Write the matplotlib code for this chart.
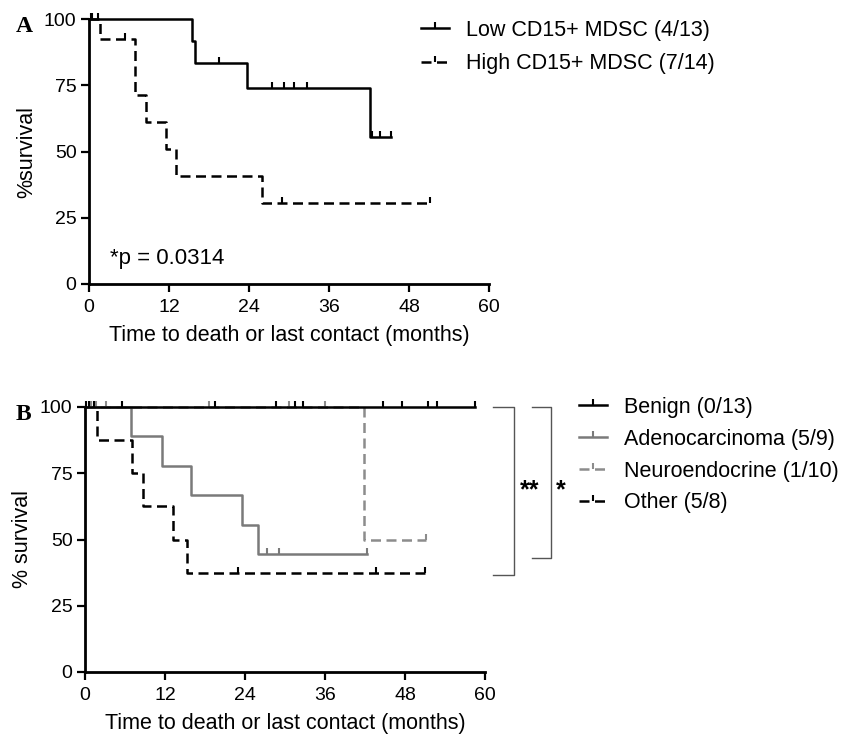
import numpy as np
import matplotlib.pyplot as plt
from matplotlib.path import Path
from matplotlib.lines import Line2D

plt.rcParams['font.family'] = ['Liberation Sans', 'DejaVu Sans']

# ---- panel A: CD15+ MDSC ----
low_t = [0, 15.4, 15.9, 23.7, 42.1, 45.3]
low_s = [100, 91.7, 83.3, 74.1, 55.6, 55.6]
low_cens = [0.25, 0.5, 19.5, 27.5, 29.3, 30.7, 32.7, 42.5, 43.7, 45.3]

high_t = [0, 1.6, 6.9, 8.6, 11.6, 13.1, 26.0, 51.1]
high_s = [100, 92.3, 71.4, 61.2, 51.0, 40.8, 30.6, 30.6]
high_cens = [1.3, 5.4, 28.9, 51.1]

labels_a = ['Low CD15+ MDSC (4/13)', 'High CD15+ MDSC (7/14)']

# ---- panel B: histology ----
benign_t = [0, 58.5]
benign_s = [100, 100]
benign_cens = [0.2, 0.6, 1.3, 5.5, 19.5, 28.6, 31.5, 32.7, 44.7, 47.6, 51.5, 52.8, 58.5]

adeno_t = [0, 6.85, 11.5, 15.9, 23.6, 26.0, 42.25]
adeno_s = [100, 88.9, 77.8, 66.7, 55.6, 44.4, 44.4]
adeno_cens = [27.35, 29.15, 42.25]

neuro_t = [0, 41.85, 51.15]
neuro_s = [100, 50, 50]
neuro_cens = [0.9, 1.7, 3.2, 18.6, 30.6, 36.0, 51.15]

other_t = [0, 1.75, 7.0, 8.65, 13.15, 15.25, 51.0]
other_s = [100, 87.5, 75, 62.5, 50, 37.5, 37.5]
other_cens = [23.0, 43.65, 51.0]

labels_b = ['Benign (0/13)', 'Adenocarcinoma (5/9)', 'Neuroendocrine (1/10)', 'Other (5/8)']

xticks = [0, 12, 24, 36, 48, 60]
yticks = [0, 25, 50, 75, 100]

# upward censor tick
cens_marker = Path([(0, 0), (0, 1)])
DASH = (4, 2.2)
LW = 1.8
FS = 15.5


def level_at(times, surv, t):
    i = np.searchsorted(times, t, side='right') - 1
    return surv[i]


def km(ax, times, surv, cens, color, dashed=False):
    ls = (0, DASH) if dashed else '-'
    ax.step(times, surv, where='post', color=color, lw=LW, linestyle=ls, clip_on=False)
    cy = [level_at(times, surv, t) for t in cens]
    ax.plot(cens, cy, linestyle='none', marker=cens_marker, markersize=8,
            markeredgewidth=1.5, color=color, clip_on=False)


def style_axes(ax, ylabel):
    for s in ['top', 'right']:
        ax.spines[s].set_visible(False)
    for s in ['left', 'bottom']:
        ax.spines[s].set_linewidth(2.0)
    ax.set_xlim(0, 60)
    ax.set_ylim(0, 100)
    ax.set_xticks(xticks)
    ax.set_yticks(yticks)
    ax.tick_params(direction='out', length=6, width=1.6, labelsize=14)
    ax.tick_params(axis='x', pad=5)
    ax.tick_params(axis='y', pad=3)
    ax.set_xlabel('Time to death or last contact (months)', fontsize=FS, labelpad=6)
    ax.set_ylabel(ylabel, fontsize=FS, labelpad=5)


def leg_handle(color, dashed):
    ls = (0, DASH) if dashed else '-'
    return Line2D([0], [0], color=color, lw=LW, linestyle=ls, marker=cens_marker,
                  markersize=8, markeredgewidth=1.5)


fig = plt.figure(figsize=(8.56, 7.35), dpi=100)
W, H = 856, 735

axA = fig.add_axes([89 / W, 1 - 284 / H, 400 / W, 265 / H])
km(axA, high_t, high_s, high_cens, 'black', dashed=True)
km(axA, low_t, low_s, low_cens, 'black')
style_axes(axA, '%survival')
axA.text(3.1, 9.5, '*p = 0.0314', fontsize=16, va='center', ha='left')
axA.legend([leg_handle('black', False), leg_handle('black', True)], labels_a,
           loc='upper left', bbox_to_anchor=(421 / W, 1 - 20 / H),
           bbox_transform=fig.transFigure, frameon=False, fontsize=FS,
           handlelength=1.3, handletextpad=0.8, labelspacing=0.56,
           borderpad=0, borderaxespad=0)

axB = fig.add_axes([85 / W, 1 - 672 / H, 400 / W, 265 / H])
km(axB, other_t, other_s, other_cens, 'black', dashed=True)
km(axB, neuro_t, neuro_s, neuro_cens, '#8c8c8c', dashed=True)
km(axB, adeno_t, adeno_s, adeno_cens, '#7a7a7a')
km(axB, benign_t, benign_s, benign_cens, 'black')
style_axes(axB, '% survival')
axB.legend([leg_handle('black', False), leg_handle('#7a7a7a', False),
            leg_handle('#8c8c8c', True), leg_handle('black', True)], labels_b,
           loc='upper left', bbox_to_anchor=(579 / W, 1 - 397 / H),
           bbox_transform=fig.transFigure, frameon=False, fontsize=FS,
           handlelength=1.3, handletextpad=0.8, labelspacing=0.5,
           borderpad=0, borderaxespad=0)

# significance brackets
axB.plot([61.2, 64.35, 64.35, 61.2], [100, 100, 36.5, 36.5], color='#555555', lw=1.0, clip_on=False)
axB.plot([67.0, 69.85, 69.85, 67.0], [100, 100, 43.0, 43.0], color='#555555', lw=1.0, clip_on=False)
axB.text(66.75, 66.1, '**', fontsize=18, fontweight='bold', ha='center', va='baseline')
axB.text(71.4, 66.1, '*', fontsize=18, fontweight='bold', ha='center', va='baseline')

fig.text(16 / W, 1 - 26 / H, 'A', fontsize=17, fontweight='bold', family='Liberation Serif', va='center')
fig.text(16 / W, 1 - 415 / H, 'B', fontsize=17, fontweight='bold', family='Liberation Serif', va='center')

fig.savefig('out.png', dpi=100)
